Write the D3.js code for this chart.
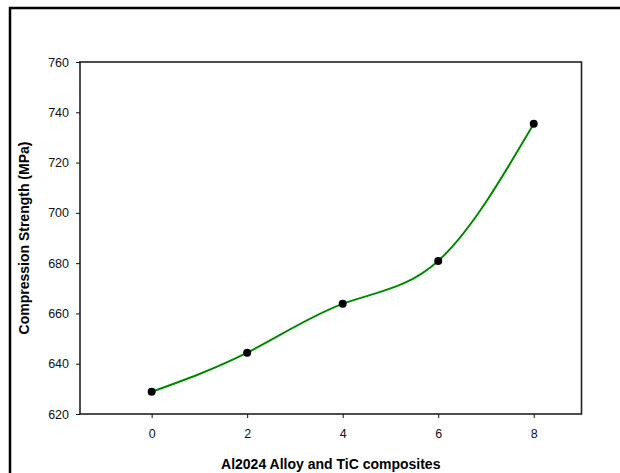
<!DOCTYPE html>
<html>
<head>
<meta charset="utf-8">
<script src="https://cdn.jsdelivr.net/npm/d3@7"></script>
<style>
  body { margin: 0; background: #fff; }
  text { font-family: Arial, "Liberation Sans", sans-serif; }
</style>
</head>
<body>
<svg id="chart" width="620" height="473"></svg>
<script>
// data
var content = [0, 2, 4, 6, 8];
var strength = [628.8, 644.4, 663.8, 680.9, 735.4];
var xTicks = [0, 2, 4, 6, 8];
var yTicks = [620, 640, 660, 680, 700, 720, 740, 760];

var svg = d3.select("#chart");

// outer frame (runs off the right and bottom edge)
svg.append("rect")
    .attr("x", 10).attr("y", 8)
    .attr("width", 700).attr("height", 600)
    .attr("fill", "none")
    .attr("stroke", "#000")
    .attr("stroke-width", 2.5);

// plot box edges ("top" is a window property, so use other names)
var boxL = 80, boxR = 581.5, boxT = 62, boxB = 414;

var x = d3.scaleLinear().domain([-1.5, 9]).range([boxL, boxR]);
var y = d3.scaleLinear().domain([620, 760]).range([boxB, boxT]);

svg.append("rect")
    .attr("x", boxL).attr("y", boxT)
    .attr("width", boxR - boxL).attr("height", boxB - boxT)
    .attr("fill", "none")
    .attr("stroke", "#222")
    .attr("stroke-width", 1.6);

var xAxis = svg.append("g")
    .attr("transform", "translate(0," + boxB + ")")
    .call(d3.axisBottom(x).tickValues(xTicks).tickSize(4).tickPadding(11).tickFormat(d3.format("d")));
xAxis.select(".domain").remove();

var yAxis = svg.append("g")
    .attr("transform", "translate(" + boxL + ",0)")
    .call(d3.axisLeft(y).tickValues(yTicks).tickSize(4).tickPadding(7).tickFormat(d3.format("d")));
yAxis.select(".domain").remove();

svg.selectAll(".tick line").attr("stroke", "#111").attr("stroke-width", 1);
svg.selectAll(".tick text")
    .attr("font-size", 12.5)
    .attr("font-family", "Arial, 'Liberation Sans', sans-serif")
    .attr("fill", "#111");

// curve through the points
var pts = content.map(function(c, i) { return [c, strength[i]]; });
var line = d3.line()
    .x(d => x(d[0]))
    .y(d => y(d[1]))
    .curve(d3.curveNatural);

svg.append("path")
    .datum(pts)
    .attr("d", line)
    .attr("fill", "none")
    .attr("stroke", "#008a00")
    .attr("stroke-width", 2);

svg.selectAll("circle.pt")
    .data(pts)
    .enter()
    .append("circle")
    .attr("class", "pt")
    .attr("cx", d => x(d[0]))
    .attr("cy", d => y(d[1]))
    .attr("r", 4)
    .attr("fill", "#000");

// axis titles
svg.append("text")
    .attr("x", (boxL + boxR) / 2)
    .attr("y", 469)
    .attr("text-anchor", "middle")
    .attr("font-size", 14)
    .attr("font-weight", "bold")
    .text("Al2024 Alloy and TiC composites");

svg.append("text")
    .attr("transform", "translate(29," + ((boxT + boxB) / 2) + ") rotate(-90)")
    .attr("text-anchor", "middle")
    .attr("font-size", 14)
    .attr("font-weight", "bold")
    .text("Compression Strength (MPa)");
</script>
</body>
</html>
